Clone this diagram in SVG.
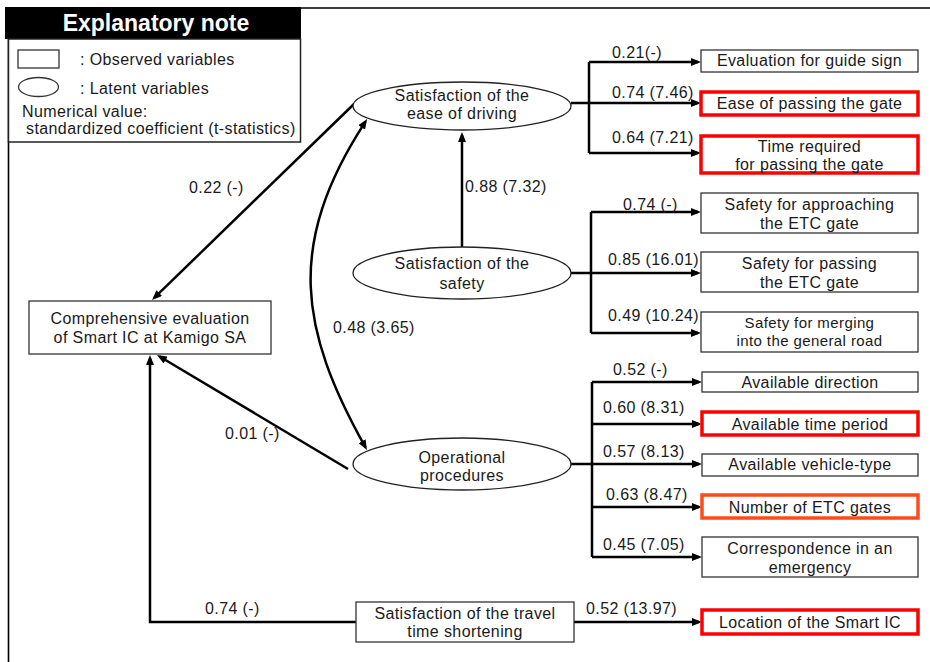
<svg xmlns="http://www.w3.org/2000/svg" width="930" height="662" viewBox="0 0 930 662">
<defs>
<style>
.t{font-family:"Liberation Sans",Arial,sans-serif;font-size:16px;letter-spacing:0.4px;fill:#1a1a1a}
.c{text-anchor:middle}
.s15{font-size:15px}
.box{fill:#fff;stroke:#333;stroke-width:1.3}
.red{fill:#fff;stroke:#ff0000;stroke-width:3.5}
.org{fill:#fff;stroke:#ff4a1c;stroke-width:3.5}
.ell{fill:#fff;stroke:#222;stroke-width:1.3}
.con{fill:none;stroke:#000;stroke-width:2.5}
.arr{fill:none;stroke:#000;stroke-width:2.5;marker-end:url(#ah)}
.frame{fill:none;stroke:#000;stroke-width:1.6}
</style>
<marker id="ah" viewBox="0 0 10 8" refX="7" refY="4" markerWidth="10" markerHeight="8" markerUnits="userSpaceOnUse" orient="auto-start-reverse"><path d="M0,0 L10,4 L0,8 z" fill="#000"/></marker>
</defs>
<rect width="930" height="662" fill="#fff"/>

<!-- frame -->
<path class="frame" d="M300,8 H930 M8.5,39 V662"/>

<!-- legend -->
<g id="legend">
<rect x="5" y="7" width="296" height="32" fill="#000"/>
<rect x="8.5" y="39" width="292" height="103" fill="#fff" stroke="#222" stroke-width="1.5"/>
<text x="156" y="31" text-anchor="middle" style="font-family:'Liberation Sans',Arial,sans-serif;font-size:23px;font-weight:bold;fill:#fff">Explanatory note</text>
<rect x="18" y="50" width="41" height="18" fill="#fff" stroke="#333" stroke-width="1.3"/>
<text class="t" x="80" y="65">: Observed variables</text>
<ellipse cx="38.5" cy="87" rx="20" ry="9.5" fill="#fff" stroke="#333" stroke-width="1.3"/>
<text class="t" x="80" y="94">: Latent variables</text>
<text class="t" x="22" y="117">Numerical value:</text>
<text class="t" x="26" y="134">standardized coefficient (t-statistics)</text>
</g>

<!-- connectors -->
<g id="connectors">
<path class="con" d="M571,103 H589 M589,62 V153"/>
<path class="arr" d="M589,62 H698"/>
<path class="arr" d="M589,103 H698"/>
<path class="arr" d="M589,153 H698"/>

<path class="con" d="M571,273 H591 M591,212 V333"/>
<path class="arr" d="M591,212 H698"/>
<path class="arr" d="M591,273 H698"/>
<path class="arr" d="M591,333 H698"/>

<path class="con" d="M571,464 H592 M592,382 V557"/>
<path class="arr" d="M592,382 H699"/>
<path class="arr" d="M592,424 H699"/>
<path class="arr" d="M592,464 H699"/>
<path class="arr" d="M592,507 H699"/>
<path class="arr" d="M592,557 H699"/>

<path class="arr" d="M574,622 H699"/>

<path class="arr" d="M462,247 V135"/>
<path class="arr" d="M354,104 L154.2,297.9"/>
<path class="arr" d="M348,469 L159.6,356.5"/>
<path class="arr" d="M356,622 H150 V358"/>
<path class="con" d="M365.5,121.6 C285,245 300,330 365.5,447.4" marker-start="url(#ah)" marker-end="url(#ah)"/>

<text class="t" x="612" y="58">0.21(-)</text>
<text class="t" x="612" y="98">0.74 (7.46)</text>
<text class="t" x="612" y="143">0.64 (7.21)</text>
<text class="t" x="465" y="192">0.88 (7.32)</text>
<text class="t" x="623" y="210">0.74 (-)</text>
<text class="t" x="608" y="265">0.85 (16.01)</text>
<text class="t" x="608" y="321">0.49 (10.24)</text>
<text class="t" x="189" y="193">0.22 (-)</text>
<text class="t" x="333" y="333">0.48 (3.65)</text>
<text class="t" x="225" y="439">0.01 (-)</text>
<text class="t" x="613" y="375">0.52 (-)</text>
<text class="t" x="603" y="413">0.60 (8.31)</text>
<text class="t" x="603" y="457">0.57 (8.13)</text>
<text class="t" x="606" y="500">0.63 (8.47)</text>
<text class="t" x="603" y="550">0.45 (7.05)</text>
<text class="t" x="205" y="614">0.74 (-)</text>
<text class="t" x="586" y="614">0.52 (13.97)</text>
</g>

<!-- latent variables -->
<g id="ease-of-driving">
<ellipse class="ell" cx="462" cy="106" rx="109" ry="24"/>
<text class="t c" x="462" y="100.5">Satisfaction of the</text>
<text class="t c" x="462" y="118.5">ease of driving</text>
</g>
<g id="safety">
<ellipse class="ell" cx="462" cy="273" rx="109" ry="26"/>
<text class="t c" x="462" y="268.5">Satisfaction of the</text>
<text class="t c" x="462" y="288.5">safety</text>
</g>
<g id="operational">
<ellipse class="ell" cx="462" cy="464" rx="109" ry="26"/>
<text class="t c" x="462" y="462.5">Operational</text>
<text class="t c" x="462" y="480.5">procedures</text>
</g>

<!-- observed variables -->
<g id="comprehensive">
<rect class="box" x="29" y="301" width="242" height="53"/>
<text class="t c" x="150" y="323.5">Comprehensive evaluation</text>
<text class="t c" x="150" y="342.5">of Smart IC at Kamigo SA</text>
</g>
<g id="travel-time">
<rect class="box" x="356" y="602" width="218" height="40"/>
<text class="t c" x="465" y="618.5">Satisfaction of the travel</text>
<text class="t c" x="465" y="637">time shortening</text>
</g>
<g id="guide-sign">
<rect class="box" x="701" y="50" width="217" height="22"/>
<text class="t c" x="809.5" y="66">Evaluation for guide sign</text>
</g>
<g id="ease-passing">
<rect class="red" x="701" y="92" width="217" height="23"/>
<text class="t c" x="809.5" y="108.5">Ease of passing the gate</text>
</g>
<g id="time-required">
<rect class="red" x="701" y="136" width="217" height="37"/>
<text class="t c" x="809.5" y="151.5">Time required</text>
<text class="t c" x="809.5" y="169.5">for passing the gate</text>
</g>
<g id="safety-approaching">
<rect class="box" x="701" y="193" width="217" height="40"/>
<text class="t c" x="809.5" y="209.5">Safety for approaching</text>
<text class="t c" x="809.5" y="228.5">the ETC gate</text>
</g>
<g id="safety-passing">
<rect class="box" x="701" y="252" width="217" height="40"/>
<text class="t c" x="809.5" y="268.5">Safety for passing</text>
<text class="t c" x="809.5" y="287.5">the ETC gate</text>
</g>
<g id="safety-merging">
<rect class="box" x="701" y="312" width="217" height="40"/>
<text class="t c s15" x="809.5" y="328">Safety for merging</text>
<text class="t c s15" x="809.5" y="346">into the general road</text>
</g>
<g id="available-direction">
<rect class="box" x="702" y="372" width="216" height="20"/>
<text class="t c" x="810" y="387.5">Available direction</text>
</g>
<g id="available-time">
<rect class="red" x="702" y="412" width="216" height="23"/>
<text class="t c" x="810" y="429.5">Available time period</text>
</g>
<g id="vehicle-type">
<rect class="box" x="702" y="454" width="216" height="22"/>
<text class="t c" x="810" y="469.5">Available vehicle-type</text>
</g>
<g id="etc-gates">
<rect class="org" x="702" y="495" width="216" height="23"/>
<text class="t c" x="810" y="512.5">Number of ETC gates</text>
</g>
<g id="emergency">
<rect class="box" x="702" y="537" width="216" height="40"/>
<text class="t c" x="810" y="553.5">Correspondence in an</text>
<text class="t c" x="810" y="572.5">emergency</text>
</g>
<g id="location">
<rect class="red" x="702" y="610" width="216" height="24"/>
<text class="t c" x="810" y="627.5">Location of the Smart IC</text>
</g>
</svg>
